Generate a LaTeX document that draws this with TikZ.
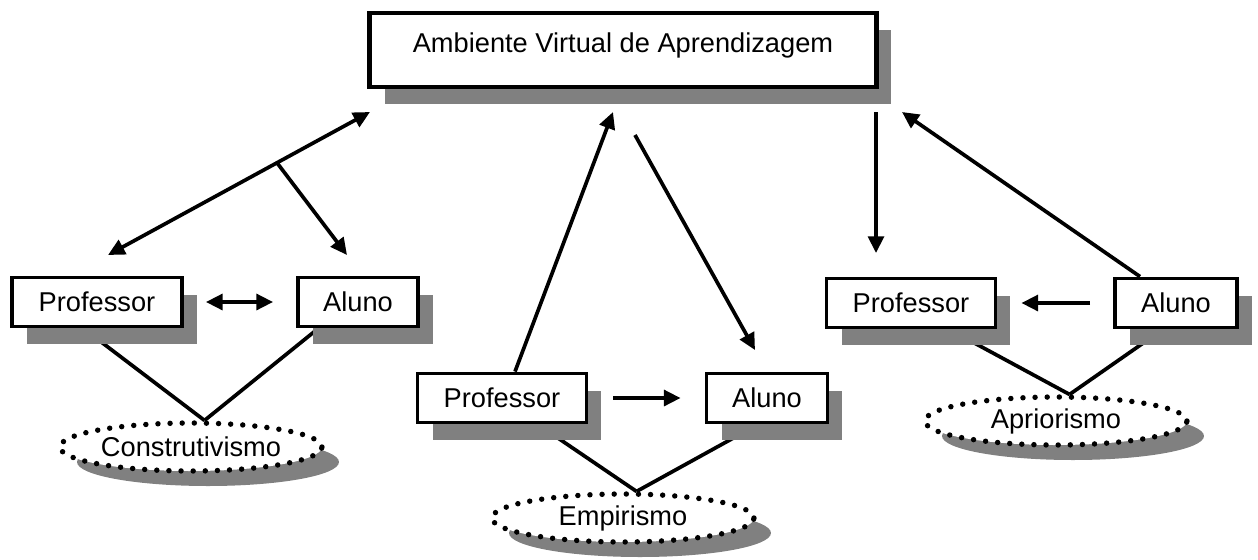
\documentclass[tikz,border=0pt]{standalone}
\usepackage{fontspec}
\setmainfont{Liberation Sans}
\usetikzlibrary{arrows.meta,shapes.geometric,shadows,backgrounds,calc}

\begin{document}
\begin{tikzpicture}
  [x=0.02cm,y=-0.02cm,
   boxN/.style={draw,line width=2.2pt,fill=white,minimum height=0.98cm,inner sep=0pt,
     font=\fontsize{15.5}{18}\selectfont,
     drop shadow={shadow xshift=0.3cm,shadow yshift=-0.34cm,fill=gray,opacity=1}},
   ellN/.style={ellipse,draw,line width=3.1pt,dash pattern=on 0pt off 6.9pt,line cap=round,
     fill=white,minimum width=5.24cm,minimum height=0.96cm,inner sep=0pt,
     font=\fontsize{15.5}{18}\selectfont,
     drop shadow={shadow xshift=0.34cm,shadow yshift=-0.3cm,fill=gray,opacity=1}},
   arr/.style={line width=2.1pt,>={Triangle[length=9.5pt,width=9pt]}},
   lineN/.style={line width=2.1pt}]

  \useasboundingbox (0,0) rectangle (1258,559);

  \node[boxN,minimum width=10.14cm,minimum height=1.48cm,line width=2.6pt,
        text height=11pt,text depth=7.6pt] (ava) at (623,50) {Ambiente Virtual de Aprendizagem};

  \node[boxN,minimum width=3.4cm]  (lprof)  at  (97,302) {Professor};
  \node[boxN,minimum width=2.4cm]  (laluno) at (358,302) {Aluno};
  \node[boxN,minimum width=3.38cm] (mprof)  at (502,398) {Professor};
  \node[boxN,minimum width=2.42cm] (maluno) at (767,398) {Aluno};
  \node[boxN,minimum width=3.38cm] (rprof)  at (911,303) {Professor};
  \node[boxN,minimum width=2.44cm] (raluno) at (1176,303) {Aluno};

  \node[ellN] (lcon) at  (191,447) {Construtivismo};
  \node[ellN] (memp) at  (623,518) {Empirismo};
  \node[ellN] (rapr) at (1056,421) {Apriorismo};

  \coordinate (lend1) at (108,255); \coordinate (lend2) at (370,112);
  \coordinate (lend3) at (347,255);
  \coordinate (mend1) at (613,112); \coordinate (mend2) at (635,135);
  \coordinate (mend3) at (755,350);
  \coordinate (rend1) at (876,112); \coordinate (rend2) at (876,253);
  \coordinate (rend3) at (902,112);

  \coordinate (lpe) at  (96,338); \coordinate (lae) at  (325,323);
  \coordinate (mpe) at (555,436); \coordinate (mae) at  (737,436);
  \coordinate (rpe) at (967,339); \coordinate (rae) at (1149,339);

  % left
  \draw[arr,<->] (lend1) -- (lend2);
  \draw[arr,->] ($(lend1)!0.645!(lend2)$) -- (lend3);
  \draw[arr,<->,shorten <=0.44cm,shorten >=0.46cm] (lprof) -- (laluno);

  % middle
  \draw[arr,->] ([xshift=0.26cm]mprof.north) -- (mend1);
  \draw[arr,->] (mend2) -- (mend3);
  \draw[arr,->,shorten <=0.5cm,shorten >=0.48cm] (mprof) -- (maluno);

  % right
  \draw[arr,->] (rend1) -- (rend2);
  \draw[arr,->] ([xshift=-0.72cm]raluno.north) -- (rend3);
  \draw[arr,->,shorten <=0.46cm,shorten >=0.48cm] (raluno) -- (rprof);

  \begin{scope}[on background layer]
    \draw[lineN] (lcon.63) -- (lpe); \draw[lineN] (lcon.63) -- (lae);
    \draw[lineN] (memp.63) -- (mpe); \draw[lineN] (memp.63) -- (mae);
    \draw[lineN] (rapr.63) -- (rpe); \draw[lineN] (rapr.63) -- (rae);
  \end{scope}
\end{tikzpicture}
\end{document}
